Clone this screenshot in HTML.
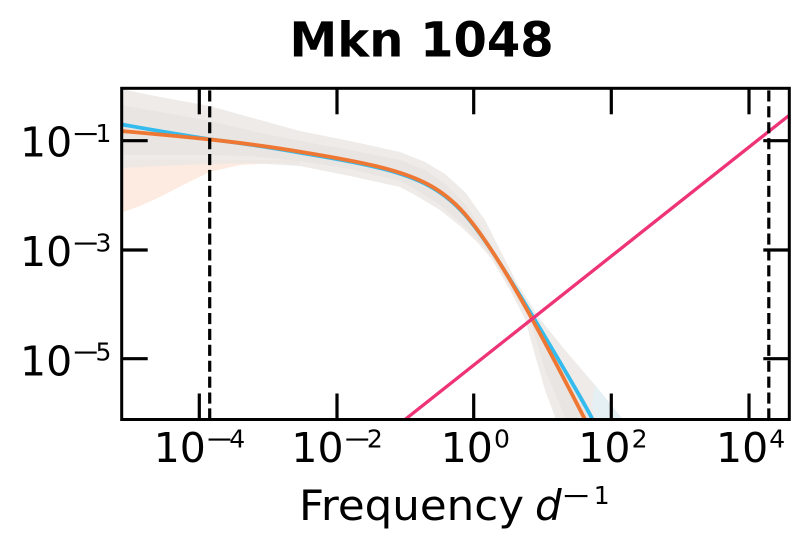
<!DOCTYPE html>
<html>
<head>
<meta charset="utf-8">
<style>
  html, body { margin: 0; padding: 0; background: #ffffff; }
  svg { display: block; }
  text { font-family: "DejaVu Sans", "Liberation Sans", sans-serif; fill: #000; }
</style>
</head>
<body>
<svg width="808" height="552" viewBox="0 0 808 552" xmlns="http://www.w3.org/2000/svg">
  <defs>
    <clipPath id="ax">
      <rect x="121.7" y="88.3" width="667.6" height="331.2"/>
    </clipPath>
  </defs>
  <rect x="0" y="0" width="808" height="552" fill="#ffffff"/>

  <!-- Title -->
  <text x="289.5" y="56.5" font-size="48" font-weight="bold">Mkn 1048</text>

  <g clip-path="url(#ax)">
    <!-- orange-tinted lower band on the left -->
    <polygon fill="#fde9de" opacity="0.9"
      points="121,166 121,213 140,206 160,197 185,184 209.7,172 240,165 280,163 300,165 300,160 121,160"/>
    <!-- outer gray band -->
    <polygon fill="#ebe8e5" opacity="0.85"
      points="121,89 160,97 209.7,106 260,120 300,131 350,141 400,152 425,162 445,174 465,192 485,220 500,250 517,283 540,319 565,350 595,385 623,419.5 630,430
              556,430 556,419.5 545,390 535,355 525,319 510,290 491,258 478,243 460,226 440,210 415,195 400,187 350,176 300,166 250,163 209.7,164 160,166 121,168"/>
    <!-- inner denser band -->
    <polygon fill="#e4e0dc" opacity="0.55"
      points="121,105 160,112 209.7,121 260,133 300,141 350,150 400,160 425,170 445,184 465,204 485,234 500,262 517,292 537,319 560,360 585,400 600,430
              570,430 560,405 545,370 530,319 513,292 493,258 478,240 460,222 440,205 415,189 400,181 350,169 300,161 250,156 209.7,155 160,155 121,155"/>
    <!-- blue tint at lower right fan -->
    <polygon fill="#e2f1f8" opacity="0.8"
      points="595,385 623,419.5 630,430 600,430 592,405"/>

    <!-- blue curve -->
    <path fill="none" stroke="#33BBEE" stroke-width="3.8" stroke-linejoin="round" stroke-linecap="butt"
      d="M121,124.3 C150,129.5 185,135.5 209.7,139.2
         C239.7,142.8 270,147.5 300,152.7
         C429.3,173.8 449,184.4 497.5,259.5
         C526,304 575,386.5 592.7,419.5 L606,446"/>
    <!-- orange curve -->
    <path fill="none" stroke="#EE7733" stroke-width="3.8" stroke-linejoin="round" stroke-linecap="butt"
      d="M121,131 C181,136.4 240,141.5 300,151.7
         C429.3,172.8 449,183.4 496.7,258.3
         C525.7,303.3 568,386.3 585,419.5 L600,450"/>
    <!-- pink line -->
    <line x1="400" y1="423.5" x2="795" y2="110.7" stroke="#EE3377" stroke-width="3.3"/>
  </g>

  <!-- dashed vertical lines -->
  <line x1="209.7" y1="419.5" x2="209.7" y2="88.3" stroke="#000" stroke-width="3.2" stroke-dasharray="11.1 4.8"/>
  <line x1="768.8" y1="419.5" x2="768.8" y2="88.3" stroke="#000" stroke-width="3.2" stroke-dasharray="11.1 4.8"/>

  <!-- spines -->
  <rect x="121.7" y="88.3" width="667.6" height="331.2" fill="none" stroke="#000" stroke-width="3"/>

  <!-- ticks -->
  <g stroke="#000" stroke-width="3.2">
    <line x1="199.3" y1="419.5" x2="199.3" y2="393.5"/>
    <line x1="337" y1="419.5" x2="337" y2="393.5"/>
    <line x1="473.7" y1="419.5" x2="473.7" y2="393.5"/>
    <line x1="611.3" y1="419.5" x2="611.3" y2="393.5"/>
    <line x1="749" y1="419.5" x2="749" y2="393.5"/>
    <line x1="199.3" y1="88.3" x2="199.3" y2="114.3"/>
    <line x1="337" y1="88.3" x2="337" y2="114.3"/>
    <line x1="473.7" y1="88.3" x2="473.7" y2="114.3"/>
    <line x1="611.3" y1="88.3" x2="611.3" y2="114.3"/>
    <line x1="749" y1="88.3" x2="749" y2="114.3"/>
    <line x1="121.7" y1="140.7" x2="147.7" y2="140.7"/>
    <line x1="121.7" y1="250" x2="147.7" y2="250"/>
    <line x1="121.7" y1="358.7" x2="147.7" y2="358.7"/>
    <line x1="789.3" y1="140.7" x2="763.3" y2="140.7"/>
    <line x1="789.3" y1="250" x2="763.3" y2="250"/>
    <line x1="789.3" y1="358.7" x2="763.3" y2="358.7"/>
  </g>

  <!-- y tick labels -->
  <text x="20" y="156.7" font-size="41">10</text>
  <text transform="translate(71.3,142) scale(1.4,1)" font-size="25">−</text>
  <text x="95.5" y="142" font-size="25">1</text>

  <text x="20" y="266" font-size="41">10</text>
  <text transform="translate(71.3,251.3) scale(1.4,1)" font-size="25">−</text>
  <text x="95.5" y="251.3" font-size="25">3</text>

  <text x="20" y="375.3" font-size="41">10</text>
  <text transform="translate(71.3,360.6) scale(1.4,1)" font-size="25">−</text>
  <text x="95.5" y="360.6" font-size="25">5</text>

  <!-- x tick labels -->
  <text x="153.7" y="462" font-size="41">10</text>
  <text transform="translate(205,447.3) scale(1.4,1)" font-size="25">−</text>
  <text x="229.2" y="447.3" font-size="25">4</text>

  <text x="291.4" y="462" font-size="41">10</text>
  <text transform="translate(342.7,447.3) scale(1.4,1)" font-size="25">−</text>
  <text x="366.9" y="447.3" font-size="25">2</text>

  <text x="440.7" y="462" font-size="41">10</text>
  <text x="494" y="447.3" font-size="25">0</text>

  <text x="578.3" y="462" font-size="41">10</text>
  <text x="631.6" y="447.3" font-size="25">2</text>

  <text x="716" y="462" font-size="41">10</text>
  <text x="769.3" y="447.3" font-size="25">4</text>

  <!-- x axis label -->
  <text x="299" y="520" font-size="42" textLength="225" lengthAdjust="spacingAndGlyphs">Frequency</text>
  <text x="535" y="520" font-size="42" font-style="italic">d</text>
  <text transform="translate(561.1,504) scale(1.45,1)" font-size="25">−</text>
  <text x="593.7" y="504" font-size="25">1</text>
</svg>
</body>
</html>
